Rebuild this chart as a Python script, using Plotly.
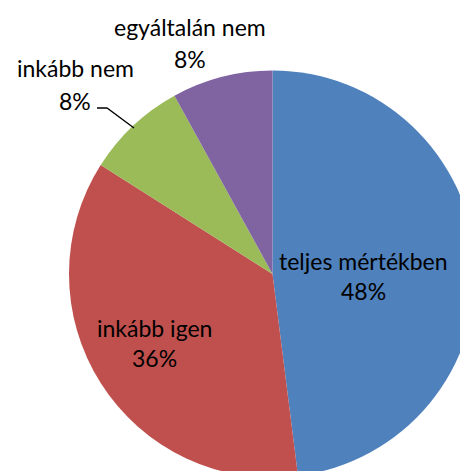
import plotly.graph_objects as go

labels = ["teljes mértékben", "inkább igen", "inkább nem", "egyáltalán nem"]
values = [48, 36, 8, 8]
colors = ["#4F81BD", "#C0504D", "#9BBB59", "#8064A2"]

W, H = 468, 471
OFF = 8  # page body margin

# label centres in window pixels (name line, percent line)
label_pos = [
    ((363, 261), (363, 291)),
    ((154, 328), (154, 358)),
    ((75, 68), (75, 101)),
    ((190, 27), (190, 59)),
]


def px(x, y):
    return (x - OFF) / W, 1 - (y - OFF) / H


fig = go.Figure(go.Pie(
    labels=labels,
    values=values,
    marker=dict(colors=colors, line=dict(width=0)),
    sort=False,
    direction="clockwise",
    textinfo="none",
    hoverinfo="label+percent",
    domain=dict(x=[(69 - OFF) / W, 1], y=[0, 1 - (69 - OFF) / H]),
    showlegend=False,
))

total = sum(values)
for name, v, (p1, p2) in zip(labels, values, label_pos):
    pct = "%d%%" % round(100 * v / total)
    for txt, pos in ((name, p1), (pct, p2)):
        x, y = px(*pos)
        fig.add_annotation(x=x, y=y, xref="paper", yref="paper", text=txt,
                           showarrow=False, xanchor="center", yanchor="middle",
                           font=dict(family="Lato", size=23, color="#000000"))

# leader line for "inkább nem"
a, b, c = px(97, 108), px(107, 108), px(134, 128)
fig.add_shape(type="path", xref="paper", yref="paper",
              path="M %f,%f L %f,%f L %f,%f" % (a + b + c),
              line=dict(color="#000000", width=1.3))

fig.update_layout(width=W, height=H, margin=dict(l=0, r=0, t=0, b=0),
                  paper_bgcolor="white", plot_bgcolor="white")

fig.write_html("out.html")
